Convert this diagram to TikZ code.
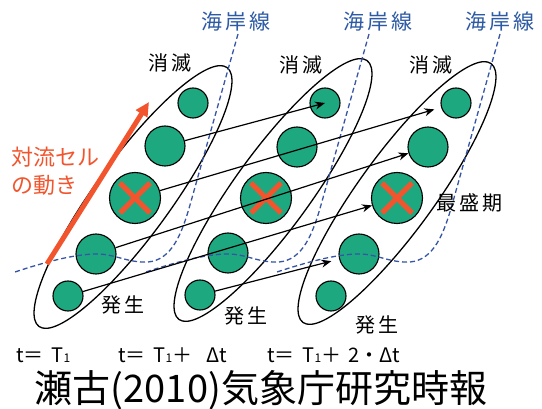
\documentclass[tikz,border=0pt]{standalone}
\usepackage{fontspec}
\setmainfont{Noto Sans CJK JP}
\newfontfamily\jpsp[LetterSpace=15]{Noto Sans CJK JP}
\usetikzlibrary{arrows.meta,shapes.geometric}
\definecolor{cellgreen}{RGB}{30,168,128}
\definecolor{xred}{RGB}{242,85,45}
\definecolor{coast}{RGB}{55,85,165}
\definecolor{coasttext}{RGB}{45,90,165}
\newcommand{\ssub}[1]{{\fontsize{12}{12}\selectfont #1}}
\begin{document}
\begin{tikzpicture}[x=1pt,y=-1pt,
  cell/.style={circle, draw=black, line width=1.1pt, fill=cellgreen, inner sep=0pt},
  csmall/.style={cell, minimum size=30pt},
  cmid/.style={cell, minimum size=40pt},
  cbig/.style={cell, minimum size=51pt},
  lobe/.style={ellipse, draw=black, line width=1.3pt, minimum width=320pt, minimum height=76pt, inner sep=0pt, rotate=54},
  xmark/.style={draw=xred, line width=5pt},
  coastline/.style={draw=coast, line width=1.3pt, dash pattern=on 5pt off 3pt},
  conn/.style={draw=black, line width=1.2pt, -{Stealth[length=10pt,width=8pt]}},
  flow/.style={draw=xred, line width=5pt, -{Triangle[length=14pt,width=13pt]}},
  lbl/.style={font=\jpsp\fontsize{20}{20}\selectfont, inner sep=0pt},
  coastlbl/.style={font=\jpsp\fontsize{21}{21}\selectfont, text=coasttext, inner sep=0pt},
  flowlbl/.style={font=\fontsize{22}{22}\selectfont, text=xred, inner sep=0pt, anchor=west},
  timelbl/.style={font=\fontsize{20}{20}\selectfont, inner sep=0pt, anchor=west}
]
\useasboundingbox[fill=white] (0,0) rectangle (542,409);

% lobes
\node[lobe] (e1) at (133,197) {};
\node[lobe] (e2) at (273,190) {};
\node[lobe] (e3) at (397,193) {};

% cells
\node[csmall] (c11) at (193,103) {};
\node[cmid]   (c12) at (165,146) {};
\node[cbig]   (c13) at (135,198) {};
\node[cmid]   (c14) at (96,254) {};
\node[csmall] (c15) at (68,296) {};

\node[csmall] (c21) at (325,103) {};
\node[cmid]   (c22) at (297,147) {};
\node[cbig]   (c23) at (266,198) {};
\node[cmid]   (c24) at (228,253) {};
\node[csmall] (c25) at (200,295) {};

\node[csmall] (c31) at (456,103) {};
\node[cmid]   (c32) at (428,147) {};
\node[cbig]   (c33) at (397,198) {};
\node[cmid]   (c34) at (359,254) {};
\node[csmall] (c35) at (331,296) {};

% peak marks
\foreach \c in {c13,c23,c33}{
  \draw[xmark] ([shift={(-15,-15)}]\c.center) -- ([shift={(15,15)}]\c.center);
  \draw[xmark] ([shift={(15,-15)}]\c.center) -- ([shift={(-15,15)}]\c.center);
}

% coastlines
\foreach \dx in {0,131,262}{
  \draw[coastline, xshift=\dx] (238,34) -- (190,205)
    .. controls (182,233) and (172,260) .. (148,262)
    .. controls (128,263) and (115,254) .. (97,254)
    .. controls (75,254) and (45,262) .. (15,272);
}

% movement connectors
\draw[conn] (c12) -- (c21.center);
\draw[conn, shorten >=7pt] (c13) -- (c31);
\draw[conn] (c14) -- (c32);
\draw[conn] (c15) -- (c33);
\draw[conn, shorten >=8pt] (c25) -- (c34);

% convective cell motion arrow
\coordinate (fa) at (47,264);
\coordinate (fb) at (149,102);
\draw[flow] (fa) -- (fb);
\node[flowlbl] (t1) at (11,157) {対流セル};
\node[flowlbl] (t2) at (11,185) {の動き};

% labels
\node[coastlbl] (k1) at (236,22) {海岸線};
\node[coastlbl] (k2) at (378,22) {海岸線};
\node[coastlbl] (k3) at (500,22) {海岸線};

\node[lbl] (s1) at (170,63) {消滅};
\node[lbl] (s2) at (301,65) {消滅};
\node[lbl] (s3) at (431,65) {消滅};

\node[lbl] (g1) at (123,305) {発生};
\node[lbl] (g2) at (246,316) {発生};
\node[lbl] (g3) at (377,325) {発生};

\node[lbl] (pk) at (469,203) {最盛期};

\node[timelbl] (tm1) at (16,355) {t＝\hspace{8pt}T\ssub{1}};
\node[timelbl] (tm2) at (118,355) {t＝\hspace{8pt}T\ssub{1}＋\hspace{14pt}Δt};
\node[timelbl] (tm3) at (267,355) {t＝\hspace{8pt}T\ssub{1}＋\hspace{7pt}2・Δt};

\node[font=\fontsize{38}{38}\selectfont, inner sep=0pt] (title) at (261,390) {瀬古(2010)気象庁研究時報};
\end{tikzpicture}
\end{document}
